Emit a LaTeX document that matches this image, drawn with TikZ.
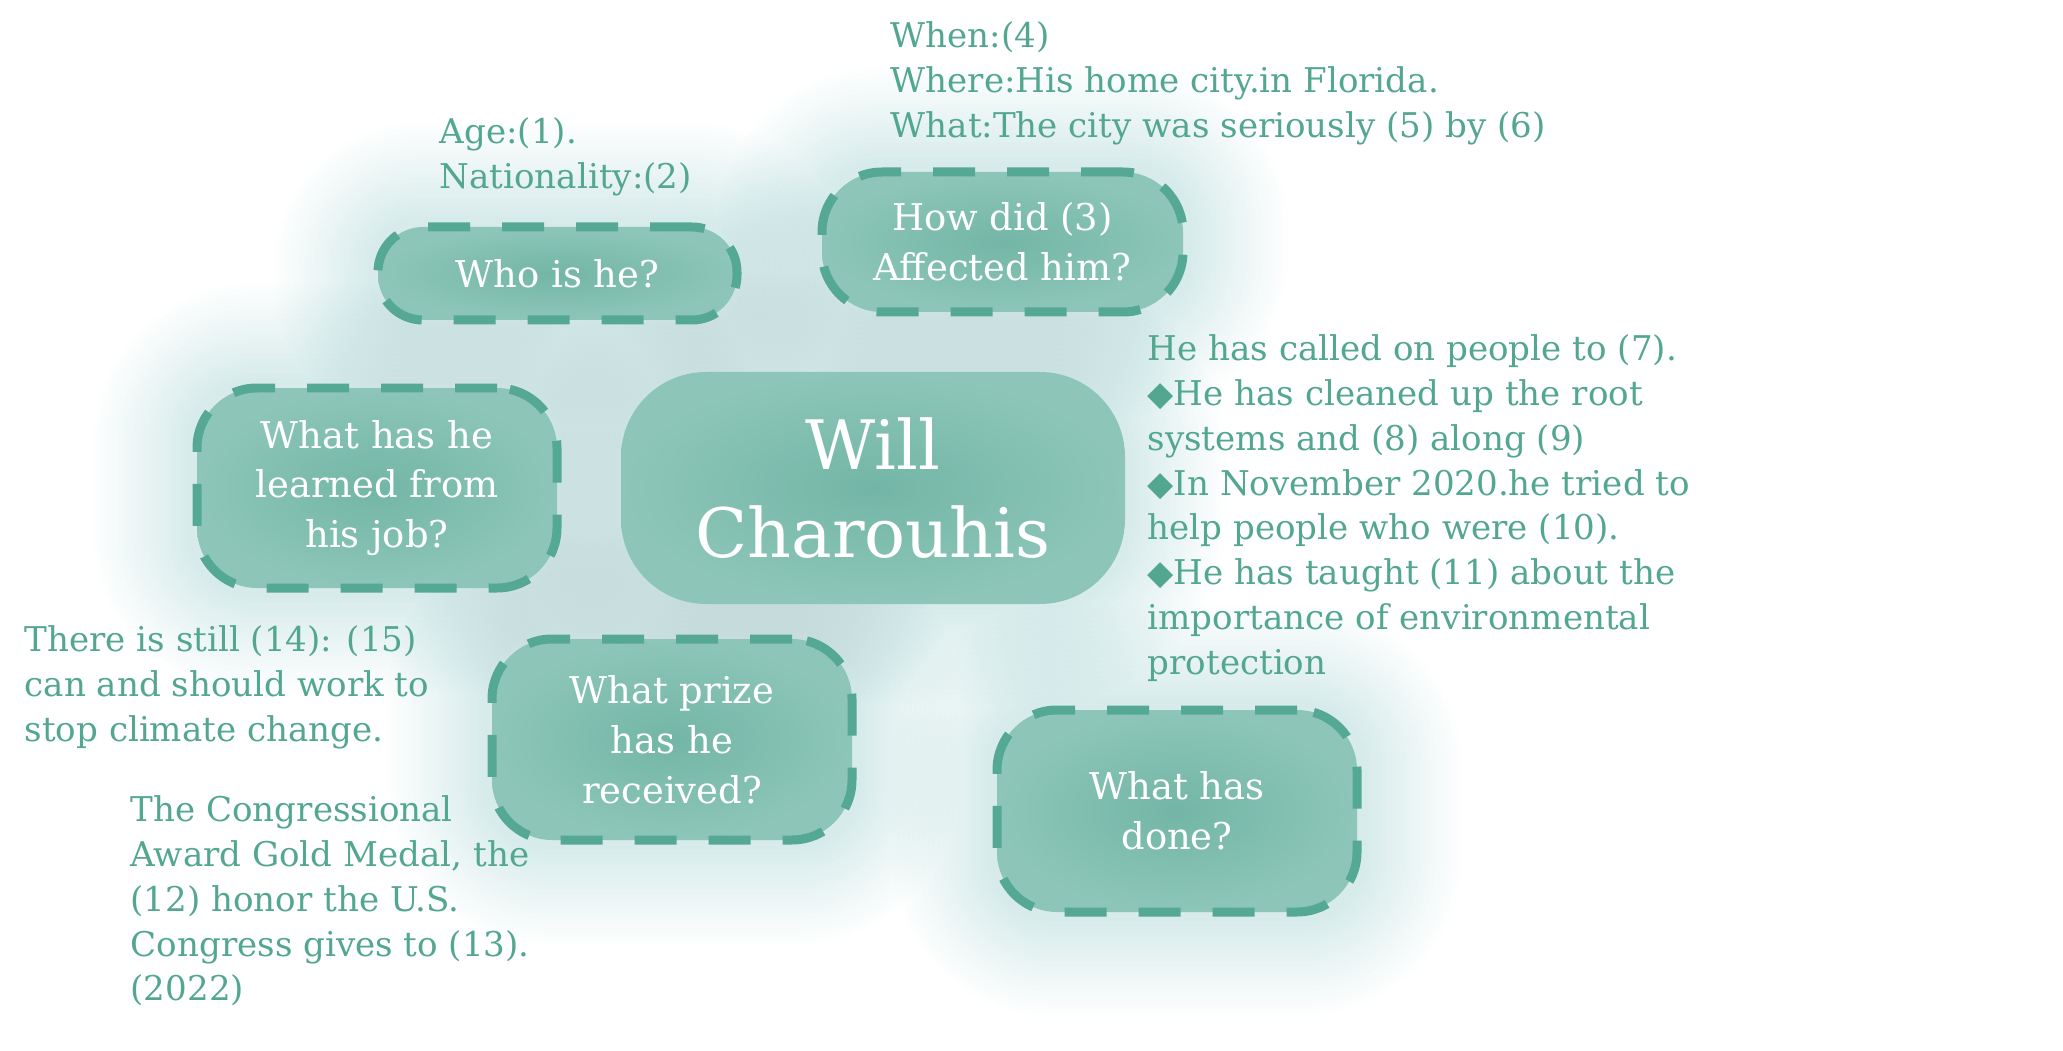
\documentclass[tikz,border=0pt]{standalone}
\usepackage{fontspec}
\setmainfont{DejaVu Serif}
\newfontfamily\diafont{DejaVu Sans}
\usetikzlibrary{backgrounds}

\definecolor{qline}{HTML}{55A893}
\definecolor{qtext}{HTML}{53A791}
\definecolor{qdark}{HTML}{73B6A6}
\definecolor{qlight}{HTML}{8DC6B9}

% bullet and first-line strut for the note blocks
\newcommand{\dia}{{\diafont ◆}}
\newcommand{\firstline}{\rule{0pt}{0.3cm}}

\tikzset{
  question/.style={rounded corners=0.6cm, minimum width=3.6cm, minimum height=2.0cm,
    inner sep=0pt, align=center, text=white, inner color=qdark, outer color=qlight,
    draw=qline, line width=0.09cm, dash pattern=on 0.42cm off 0.32cm,
    font=\fontsize{10.5}{14.2}\selectfont},
  hero/.style={rounded corners=0.85cm, minimum width=5.04cm, minimum height=2.32cm,
    inner sep=0pt, align=center, text=white, inner color=qdark, outer color=qlight,
    font=\fontsize{19.4}{25}\selectfont},
  note/.style={anchor=north west, inner sep=0pt, align=left, text=qtext,
    font=\fontsize{9.7}{12.75}\selectfont},
  glow/.style={qline, draw opacity=0.009, line width=#1mm},
}

\begin{document}
\begin{tikzpicture}
  \useasboundingbox (0,0) rectangle (20.63,-10.51);

  % Centre node
  \node[hero] (main) at (8.73,-4.88) {Will\\Charouhis};

  % Question nodes
  \node[question, rounded corners=0.45cm, minimum width=3.59cm, minimum height=0.93cm]
    (who) at (5.575,-2.735) {Who is he?};
  \node[question, minimum width=3.61cm, minimum height=1.40cm]
    (how) at (10.025,-2.42) {How did (3)\\Affected him?};
  \node[question] (learned) at (3.77,-4.88) {What has he\\learned from\\his job?};
  \node[question, minimum height=2.01cm] (prize) at (6.72,-7.395) {What prize\\has he\\received?};
  \node[question, minimum height=2.02cm] (done) at (11.77,-8.11) {What has\\done?};

  % Notes
  \node[note] (age) at (4.39,-1.13) {\firstline Age:(1).\\Nationality:(2)};
  \node[note] (when) at (8.90,-0.17)
    {\firstline When:(4)\\Where:His home city.in Florida.\\What:The city was seriously (5) by (6)};
  \node[note] (called) at (11.47,-3.30)
    {\firstline He has called on people to (7).\\
     \dia He has cleaned up the root\\systems and (8) along (9)\\
     \dia In November 2020.he tried to\\help people who were (10).\\
     \dia He has taught (11) about the\\importance of environmental\\protection};
  \node[note] (still) at (0.24,-6.21)
    {\firstline There is still (14): (15)\\can and should work to\\stop climate change.};
  \node[note] (medal) at (1.30,-7.91)
    {\firstline The Congressional\\Award Gold Medal, the\\(12) honor the U.S.\\Congress gives to (13).\\(2022)};

  % Soft glow behind the boxes
  \begin{scope}[on background layer]
    \fill[white] (0,0) rectangle (20.63,-10.51);
    \foreach \gname/\grad in {who/0.45,how/0.6,learned/0.6,prize/0.6,done/0.6,main/0.85}
      \foreach \gw in {1,2,...,20}
        \draw[glow=\gw, rounded corners=\grad cm]
          (\gname.south west) rectangle (\gname.north east);
  \end{scope}
\end{tikzpicture}
\end{document}
